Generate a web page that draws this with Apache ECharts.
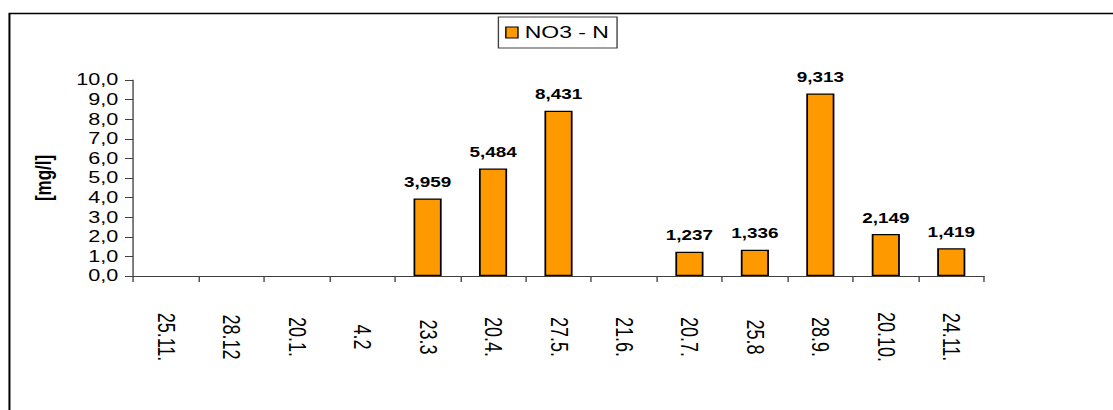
<!DOCTYPE html>
<html>
<head>
<meta charset="utf-8">
<script src="https://cdn.jsdelivr.net/npm/echarts@6/dist/echarts.min.js"></script>
<style>
  html, body { margin: 0; padding: 0; background: #fff; overflow: hidden; }
  #wrap { width: 1113px; height: 410px; overflow: hidden; position: relative; }
  /* chart is laid out narrower and widened horizontally */
  #chart { width: 824px; height: 410px; transform: scaleX(1.3507); transform-origin: 0 0; }
</style>
</head>
<body>
<div id="wrap"><div id="chart"></div></div>
<script>
// Sampling dates
const categories = ['25.11.', '28.12', '20.1.', '4.2', '23.3', '20.4.', '27.5.', '21.6.', '20.7.', '25.8', '28.9.', '20.10.', '24.11.'];
// NO3 - N concentration [mg/l]; null = no measurement
const no3n = [null, null, null, null, 3.959, 5.484, 8.431, null, 1.237, 1.336, 9.313, 2.149, 1.419];
const seriesName = 'NO3 - N';
const yMin = 0, yMax = 10, yStep = 1;

const FONT = "'Liberation Sans', Arial, sans-serif";
const chart = echarts.init(document.getElementById('chart'), null, { renderer: 'svg' });

chart.setOption({
  animation: false,
  backgroundColor: '#fff',
  textStyle: { fontFamily: FONT },
  graphic: [{
    type: 'rect',
    silent: true,
    z: -10,
    shape: { x: 7, y: 13.5, width: 2000, height: 1000 },
    style: { fill: 'none', stroke: '#000', lineWidth: 1.5 }
  }],
  legend: {
    data: [seriesName],
    left: 369,
    top: 17,
    orient: 'horizontal',
    backgroundColor: '#fff',
    borderColor: '#404040',
    borderWidth: 1,
    padding: [7, 6, 7, 5],
    itemWidth: 9,
    itemHeight: 11,
    icon: 'rect',
    itemStyle: { color: '#FF9900', borderColor: '#000', borderWidth: 1 },
    textStyle: { fontFamily: FONT, fontSize: 17, color: '#000' }
  },
  grid: {
    left: 98.5,
    right: 95.5,
    top: 80,
    bottom: 134,
    containLabel: false,
    outerBoundsMode: 'none'
  },
  xAxis: {
    type: 'category',
    data: categories,
    boundaryGap: true,
    axisLine: { show: true, lineStyle: { color: '#404040', width: 1 } },
    axisTick: { show: true, length: 6, alignWithLabel: false, lineStyle: { color: '#404040' } },
    axisLabel: {
      interval: 0,
      rotate: -90,
      align: 'center',
      verticalAlign: 'middle',
      margin: 61,
      fontFamily: FONT,
      fontSize: 18,
      color: '#000'
    },
    splitLine: { show: false }
  },
  yAxis: {
    type: 'value',
    min: yMin,
    max: yMax,
    interval: yStep,
    name: '[mg/l]',
    nameLocation: 'middle',
    nameRotate: 90,
    nameGap: 58,
    nameTextStyle: { fontFamily: FONT, fontSize: 17, fontWeight: 'bold', color: '#000' },
    axisLine: { show: true, lineStyle: { color: '#404040', width: 1 } },
    axisTick: { show: true, length: 6, inside: false, lineStyle: { color: '#404040' } },
    axisLabel: {
      margin: 11,
      fontFamily: FONT,
      fontSize: 16,
      color: '#000',
      formatter: v => v.toFixed(1).replace('.', ',')
    },
    splitLine: { show: false }
  },
  series: [{
    name: seriesName,
    type: 'bar',
    data: no3n,
    barWidth: '43%',
    itemStyle: { color: '#FF9900', borderColor: '#000', borderWidth: 1.3 },
    label: {
      show: true,
      position: 'top',
      distance: 9,
      fontFamily: FONT,
      fontSize: 14,
      fontWeight: 'bold',
      color: '#000',
      formatter: p => (p.value == null ? '' : p.value.toFixed(3).replace('.', ','))
    }
  }]
});
</script>
</body>
</html>
